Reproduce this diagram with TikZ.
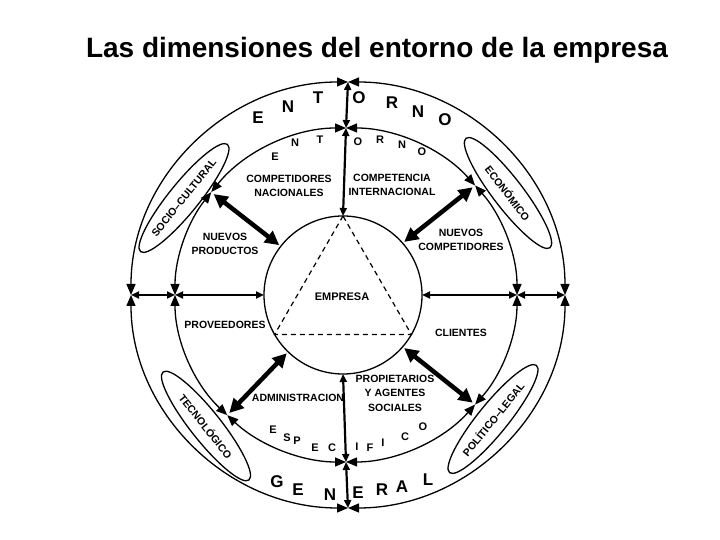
\documentclass[tikz,border=0pt]{standalone}
\usepackage{fontspec}
\setmainfont{Liberation Sans}
\usetikzlibrary{arrows.meta,shapes.geometric}
\begin{document}
\begin{tikzpicture}[x=1pt,y=1pt,
  arcline/.style={line width=1.3pt, arrows={Triangle[length=11pt,width=9pt]-Triangle[length=11pt,width=9pt]}},
  link/.style={line width=2.2pt, arrows={Triangle[length=8pt,width=7pt]-Triangle[length=8pt,width=7pt]}},
  bigarrow/.style={line width=4.5pt, arrows={Triangle[length=14pt,width=14pt]-Triangle[length=14pt,width=14pt]}, shorten <=2pt, shorten >=3pt},
  lbl/.style={font=\fontsize{10.5}{14.5}\selectfont\bfseries, align=center, inner sep=0pt},
  biglet/.style={font=\fontsize{17}{20}\selectfont\bfseries, inner sep=0pt},
  smalllet/.style={font=\fontsize{11}{13}\selectfont\bfseries, inner sep=0pt},
  oval/.style={draw, ellipse, line width=1.3pt, minimum width=138pt, minimum height=30pt, inner sep=0pt, font=\fontsize{10.5}{12}\selectfont\bfseries}
]
\useasboundingbox (0,0) rectangle (720,540);
% centres
\coordinate (ic) at (343,245);
\coordinate (mc) at (346,245);
\coordinate (oc) at (348,245);
\foreach \a in {0,41,90,142,180,210,226,270,319,330}
  \path (ic) ++(\a:79pt) coordinate (i\a);
\foreach \a in {0,41,90,142,180,226,270,319}
  \path (mc) ++(\a:171pt and 167pt) coordinate (m\a);
\foreach \a in {0,90,180,270}
  \path (oc) ++(\a:217pt and 213pt) coordinate (o\a);

% title
\node[font=\fontsize{28}{32}\selectfont\bfseries, inner sep=0pt] (title) at (377,490) {Las dimensiones del entorno de la empresa};

% inner circle and triangle
\draw[line width=1.3pt] (ic) circle[radius=79pt];
\draw[line width=1.2pt, dash pattern=on 5pt off 4pt] (i90) -- (i210) -- (i330) -- cycle;

% middle circle arcs
\foreach \a/\b in {0/41,41/90,90/142,142/180,180/226,226/270,270/319,319/360}
  \draw[arcline] (m\a) arc[start angle=\a, end angle=\b, x radius=171pt, y radius=167pt];
% outer circle arcs
\foreach \a/\b in {0/90,90/180,180/270,270/360}
  \draw[arcline] (o\a) arc[start angle=\a, end angle=\b, x radius=217pt, y radius=213pt];

% radial links
\draw[link] (i90) -- (m90);
\draw[link] (m90) -- (o90);
\draw[link] (i270) -- (m270);
\draw[link] (m270) -- (o270);
\draw[link] (i180) -- (m180);
\draw[link] (m180) -- (o180);
\draw[link] (i0) -- (m0);
\draw[link] (m0) -- (o0);

% thick diagonal arrows
\draw[bigarrow] (i142) -- (m142);
\draw[bigarrow] (i41) -- (m41);
\draw[bigarrow] (i226) -- (m226);
\draw[bigarrow] (i319) -- (m319);

% ellipses
\node[oval, rotate=51] (soc) at (184,342) {SOCIO–CULTURAL};
\node[oval, rotate=-52.5] (eco) at (508,347) {ECONÓMICO};
\node[oval, rotate=-51.5] (tec) at (206,114) {TECNOLÓGICO};
\node[oval, rotate=51] (pol) at (493,121) {POLÍTICO–LEGAL};

% labels
\node[lbl] (cn) at (289,354) {COMPETIDORES\\NACIONALES};
\node[lbl] (ci) at (392,355) {COMPETENCIA\\INTERNACIONAL};
\node[lbl] (np) at (225,296) {NUEVOS\\PRODUCTOS};
\node[lbl] (nc) at (461,300) {NUEVOS\\COMPETIDORES};
\node[lbl, font=\fontsize{11}{13}\selectfont\bfseries] (emp) at (342,243) {EMPRESA};
\node[lbl] (prov) at (225,215) {PROVEEDORES};
\node[lbl] (cli) at (461,207) {CLIENTES};
\node[lbl] (adm) at (298,142) {ADMINISTRACION};
\node[lbl] (prop) at (395,147) {PROPIETARIOS\\Y AGENTES\\SOCIALES};

% ENTORNO (outer)
\foreach \t/\x/\y [count=\k] in {E/258/422,N/288/433,T/318/442,O/359/442,R/392/437,N/418/428,O/445/420}
  \node[biglet] (oe\k) at (\x,\y) {\t};
% ENTORNO (middle)
\foreach \t/\x/\y [count=\k] in {E/275/383,N/295/397,T/320/400,O/358/398,R/380/400,N/402/395,O/422/388}
  \node[smalllet] (me\k) at (\x,\y) {\t};
% ESPECIFICO
\foreach \t/\x/\y [count=\k] in {E/273/110,S/287/102,P/297/99,E/315/92,C/332/92,I/357/93,F/370/92,I/383/97,C/405/103,O/423/113}
  \node[smalllet] (es\k) at (\x,\y) {\t};
% GENERAL
\foreach \t/\x/\y [count=\k] in {G/277/58,E/298/50,N/330/45,E/358/47,R/382/50,A/402/53,L/428/60}
  \node[biglet] (ge\k) at (\x,\y) {\t};
\end{tikzpicture}
\end{document}
